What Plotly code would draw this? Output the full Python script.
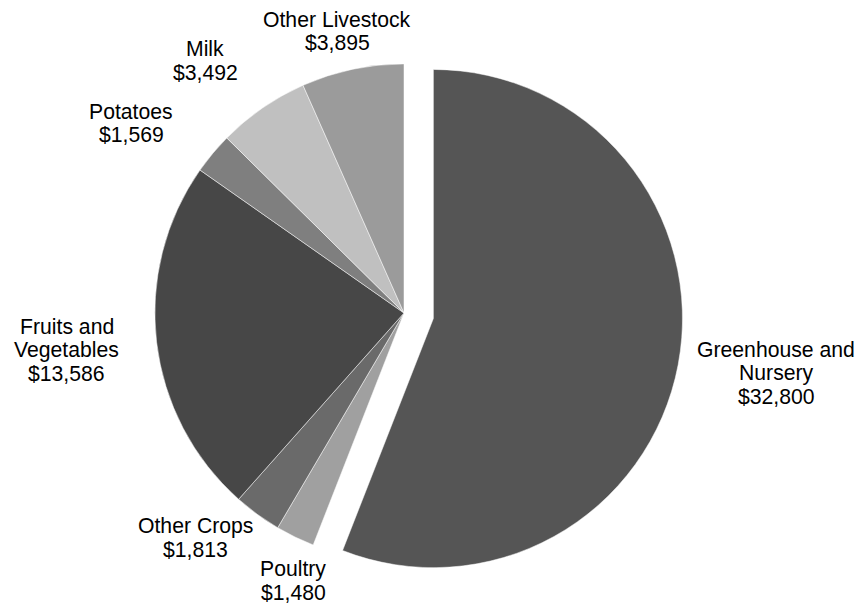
import plotly.graph_objects as go

categories = ["Greenhouse and Nursery", "Poultry", "Other Crops", "Fruits and Vegetables",
              "Potatoes", "Milk", "Other Livestock"]
label_lines = [["Greenhouse and", "Nursery"], ["Poultry"], ["Other Crops"],
               ["Fruits and", "Vegetables"], ["Potatoes"], ["Milk"], ["Other Livestock"]]
values = [32800, 1480, 1813, 13586, 1569, 3492, 3895]
colors = ["#555555", "#a0a0a0", "#6a6a6a", "#474747", "#7f7f7f", "#c0c0c0", "#9b9b9b"]
pulls = [0.12, 0, 0, 0, 0, 0, 0]

# label block centres in screen pixels (layout only)
label_px = [(776, 373), (293, 581), (195, 538), (67, 349.5), (131, 123), (205, 60.5), (337, 31)]
PAGE_OFFSET = 8  # default body margin of the html page

W, H = 865, 604
ML, MR, MT, MB = 0, 73, 26, 20
LINE = 23.5
FONT = dict(family="Arial, Liberation Sans", size=21.2, color="#000000")

fig = go.Figure(go.Pie(
    labels=categories,
    values=values,
    textinfo="none",
    marker=dict(colors=colors, line=dict(color="#ffffff", width=0.5)),
    pull=pulls,
    sort=False,
    direction="clockwise",
    rotation=0,
    showlegend=False,
    automargin=False,
    domain=dict(x=[0, 1], y=[0, 1]),
    hoverinfo="skip",
))

pw, ph = W - ML - MR, H - MT - MB
annotations = []
for lines, v, (cx, cy) in zip(label_lines, values, label_px):
    all_lines = lines + [f"${v:,}"]
    n = len(all_lines)
    for i, t in enumerate(all_lines):
        px = cx - PAGE_OFFSET
        py = cy + (i - (n - 1) / 2) * LINE - PAGE_OFFSET
        annotations.append(dict(
            text=t, x=(px - ML) / pw, y=1 - (py - MT) / ph,
            xref="paper", yref="paper", xanchor="center", yanchor="middle",
            showarrow=False, font=FONT,
        ))

fig.update_layout(
    width=W, height=H,
    margin=dict(l=ML, r=MR, t=MT, b=MB),
    paper_bgcolor="#ffffff",
    plot_bgcolor="#ffffff",
    showlegend=False,
    annotations=annotations,
)

fig.write_html("out.html")
